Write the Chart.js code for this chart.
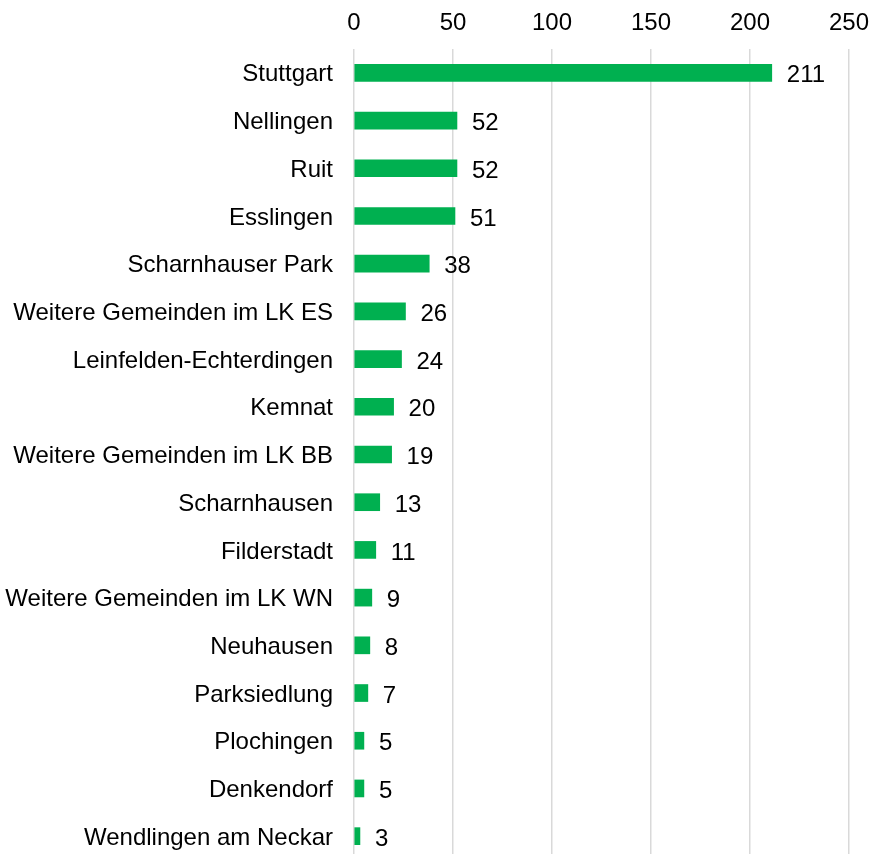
<!DOCTYPE html>
<html>
<head>
<meta charset="utf-8">
<script src="https://cdn.jsdelivr.net/npm/chart.js@4"></script>
<style>
  html, body { margin: 0; padding: 0; overflow: hidden; background: #fff; }
  canvas { display: block; }
</style>
</head>
<body>
<canvas id="chart" width="871" height="860"></canvas>
<script>
const places = ['Stuttgart', 'Nellingen', 'Ruit', 'Esslingen', 'Scharnhauser Park',
    'Weitere Gemeinden im LK ES', 'Leinfelden-Echterdingen', 'Kemnat',
    'Weitere Gemeinden im LK BB', 'Scharnhausen', 'Filderstadt',
    'Weitere Gemeinden im LK WN', 'Neuhausen', 'Parksiedlung', 'Plochingen',
    'Denkendorf', 'Wendlingen am Neckar'];
const counts = [211, 52, 52, 51, 38, 26, 24, 20, 19, 13, 11, 9, 8, 7, 5, 5, 3];
const xTicks = [0, 50, 100, 150, 200, 250];

const fontFamily = '"Liberation Sans", sans-serif';
const font = { family: fontFamily, size: 24 };

// values next to each bar
const valueLabels = {
    id: 'valueLabels',
    afterDatasetsDraw(chart) {
        const ctx = chart.ctx;
        const meta = chart.getDatasetMeta(0);
        ctx.save();
        ctx.font = '24px ' + fontFamily;
        ctx.fillStyle = '#000';
        ctx.textAlign = 'left';
        ctx.textBaseline = 'middle';
        meta.data.forEach((bar, i) => {
            ctx.fillText(counts[i], bar.x + 15, bar.y + 3);
        });
        ctx.restore();
    }
};

new Chart(document.getElementById('chart'), {
    type: 'bar',
    data: {
        labels: places,
        datasets: [{
            data: counts,
            backgroundColor: '#00B050',
            barThickness: 17
        }]
    },
    options: {
        indexAxis: 'y',
        responsive: false,
        animation: false,
        layout: { padding: { left: 0, right: 22, top: 0, bottom: 0 } },
        plugins: {
            legend: { display: false },
            tooltip: { enabled: false }
        },
        scales: {
            x: {
                position: 'top',
                min: 0,
                max: 250,
                afterBuildTicks: axis => { axis.ticks = xTicks.map(v => ({ value: v })); },
                afterFit: axis => {
                    axis.height = 49;
                    axis.paddingLeft = 0;
                    axis.paddingRight = 0;
                },
                ticks: { color: '#000', font: font, padding: 11 },
                grid: { color: '#d9d9d9', lineWidth: 1.5, drawTicks: false },
                border: { display: false }
            },
            y: {
                afterFit: axis => {
                    axis.width = 354;
                    axis.paddingTop = 0;
                    axis.paddingBottom = 0;
                },
                ticks: { color: '#000', font: font, padding: 21, labelOffset: 2, autoSkip: false },
                grid: { display: false, drawTicks: false },
                border: { display: false }
            }
        }
    },
    plugins: [valueLabels]
});
</script>
</body>
</html>
